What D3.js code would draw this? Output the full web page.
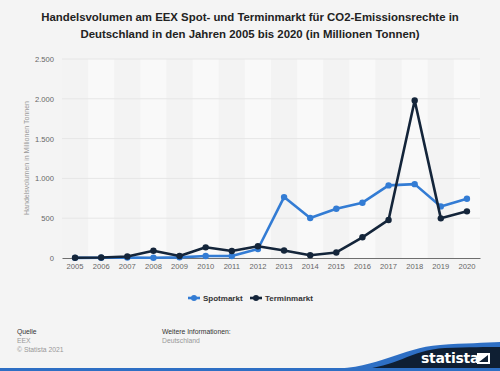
<!DOCTYPE html>
<html>
<head>
<meta charset="utf-8">
<script src="https://cdn.jsdelivr.net/npm/d3@7"></script>
<style>
  body { margin: 0; background: #f4f4f4; }
  svg { display: block; font-family: "Liberation Sans", Arial, sans-serif; }
</style>
</head>
<body>
<div id="chart"></div>
<script>
// chart data
var years = [2005, 2006, 2007, 2008, 2009, 2010, 2011, 2012, 2013, 2014, 2015, 2016, 2017, 2018, 2019, 2020];
var spotmarkt = [2, 3, 5, 3, 8, 25, 25, 113, 765, 502, 618, 695, 912, 928, 648, 745];
var terminmarkt = [3, 6, 18, 92, 26, 134, 88, 148, 95, 35, 70, 260, 478, 1978, 498, 586];
var yTicks = [0, 500, 1000, 1500, 2000, 2500];
var seriesNames = ["Spotmarkt", "Terminmarkt"];
var seriesColors = ["#337cd4", "#14253a"];

/**
 * draws the whole chart
 */
function renderChart(container) {
  var width = 500, height = 371;
  var svg = d3.select(container).append("svg").attr("width", width).attr("height", height);

  svg.append("rect").attr("width", width).attr("height", height).attr("fill", "#f4f4f4");

  // title
  var title = svg.append("text").attr("text-anchor", "middle").attr("fill", "#222")
    .attr("font-size", "11.4px").attr("font-weight", "bold");
  title.append("tspan").attr("x", 250).attr("y", 21).text("Handelsvolumen am EEX Spot- und Terminmarkt für CO2-Emissionsrechte in");
  title.append("tspan").attr("x", 250).attr("y", 38).text("Deutschland in den Jahren 2005 bis 2020 (in Millionen Tonnen)");

  var left = 62, right = 480, top = 59, bottom = 258;

  var x = d3.scaleBand().domain(years).range([left, right]);
  var y = d3.scaleLinear().domain([0, 2500]).range([bottom, top]);

  // alternating column bands
  svg.append("g").selectAll("rect").data(years).join("rect")
    .attr("x", function(d) { return x(d); })
    .attr("y", top)
    .attr("width", x.bandwidth())
    .attr("height", bottom - top)
    .attr("fill", function(d, i) { return i % 2 ? "#f9f9f9" : "#f3f3f3"; });

  // grid lines
  svg.append("g").selectAll("line").data(yTicks.slice(1)).join("line")
    .attr("x1", left).attr("x2", right)
    .attr("y1", function(d) { return y(d); }).attr("y2", function(d) { return y(d); })
    .attr("stroke", "#e6e6e6").attr("stroke-width", 1);

  // y axis
  var yAxis = svg.append("g").attr("transform", "translate(" + left + ",0)")
    .call(d3.axisLeft(y).tickValues(yTicks).tickSize(0).tickPadding(8)
      .tickFormat(function(d) { return d3.format(",")(d).replace(/,/g, "."); }));
  yAxis.select(".domain").remove();
  yAxis.selectAll("text").attr("fill", "#666").attr("font-size", "7.6px").attr("font-family", "Liberation Sans, Arial, sans-serif");

  // x axis
  var xAxis = svg.append("g").attr("transform", "translate(0," + bottom + ")")
    .call(d3.axisBottom(x).tickSize(0).tickPadding(6));
  xAxis.select(".domain").attr("stroke", "#6f6f6f").attr("stroke-width", 1.2);
  xAxis.selectAll("text").attr("fill", "#666").attr("font-size", "7.6px").attr("font-family", "Liberation Sans, Arial, sans-serif");

  // y axis label
  svg.append("text").attr("transform", "translate(29,158) rotate(-90)")
    .attr("text-anchor", "middle").attr("fill", "#999").attr("font-size", "7px")
    .text("Handelsvolumen in Millionen Tonnen");

  // series lines
  var allSeries = [spotmarkt, terminmarkt];
  var line = d3.line()
    .x(function(d, i) { return x(years[i]) + x.bandwidth() / 2; })
    .y(function(d) { return y(d); });

  allSeries.forEach(function(values, s) {
    var g = svg.append("g");
    g.append("path").datum(values).attr("d", line).attr("fill", "none")
      .attr("stroke", seriesColors[s]).attr("stroke-width", 2.6).attr("stroke-linejoin", "round");
    g.selectAll("circle").data(values).join("circle")
      .attr("cx", function(d, i) { return x(years[i]) + x.bandwidth() / 2; })
      .attr("cy", function(d) { return y(d); })
      .attr("r", 3.2).attr("fill", seriesColors[s]);
  });

  // legend
  var legendX = [188, 250];
  seriesNames.forEach(function(name, s) {
    var lg = svg.append("g").attr("transform", "translate(" + legendX[s] + ",298)");
    lg.append("line").attr("x1", 0).attr("x2", 12).attr("y1", 0).attr("y2", 0)
      .attr("stroke", seriesColors[s]).attr("stroke-width", 2.6);
    lg.append("circle").attr("cx", 6).attr("cy", 0).attr("r", 3).attr("fill", seriesColors[s]);
    lg.append("text").attr("x", 15).attr("y", 3).attr("font-size", "8px").attr("font-weight", "bold")
      .attr("fill", "#333").text(name);
  });

  // footer texts
  svg.append("text").attr("x", 17).attr("y", 334).attr("font-size", "6.8px").attr("fill", "#333").text("Quelle");
  svg.append("text").attr("x", 17).attr("y", 343).attr("font-size", "6.8px").attr("fill", "#999").text("EEX");
  svg.append("text").attr("x", 17).attr("y", 352).attr("font-size", "6.8px").attr("fill", "#999").text("© Statista 2021");
  svg.append("text").attr("x", 162).attr("y", 334).attr("font-size", "6.8px").attr("fill", "#333").text("Weitere Informationen:");
  svg.append("text").attr("x", 162).attr("y", 343).attr("font-size", "6.8px").attr("fill", "#999").text("Deutschland");

  // statista logo area
  svg.append("path")
    .attr("d", "M330,369 C380,368 400,348 440,345 C465,343 485,343 500,342 L500,371 L330,371 Z")
    .attr("fill", "#2e6fc4");
  svg.append("path")
    .attr("d", "M360,369 C395,368 410,350 445,348 C468,347 488,347 500,347 L500,371 L360,371 Z")
    .attr("fill", "#0f1f33");
  svg.append("rect").attr("x", 0).attr("y", 368).attr("width", width).attr("height", 3).attr("fill", "#2e6fc4");
  svg.append("text").attr("x", 421).attr("y", 363).attr("font-size", "14px").attr("font-weight", "bold")
    .attr("fill", "#fff").attr("font-family", "DejaVu Sans, sans-serif").attr("letter-spacing", "-0.3").text("statista");
  svg.append("path").attr("d", "M477,353 L490,353 L490,364 L477,364 Z M479,362 L488,355 L488,362 Z")
    .attr("fill", "#fff").attr("fill-rule", "evenodd");
}

renderChart("#chart");
</script>
</body>
</html>
